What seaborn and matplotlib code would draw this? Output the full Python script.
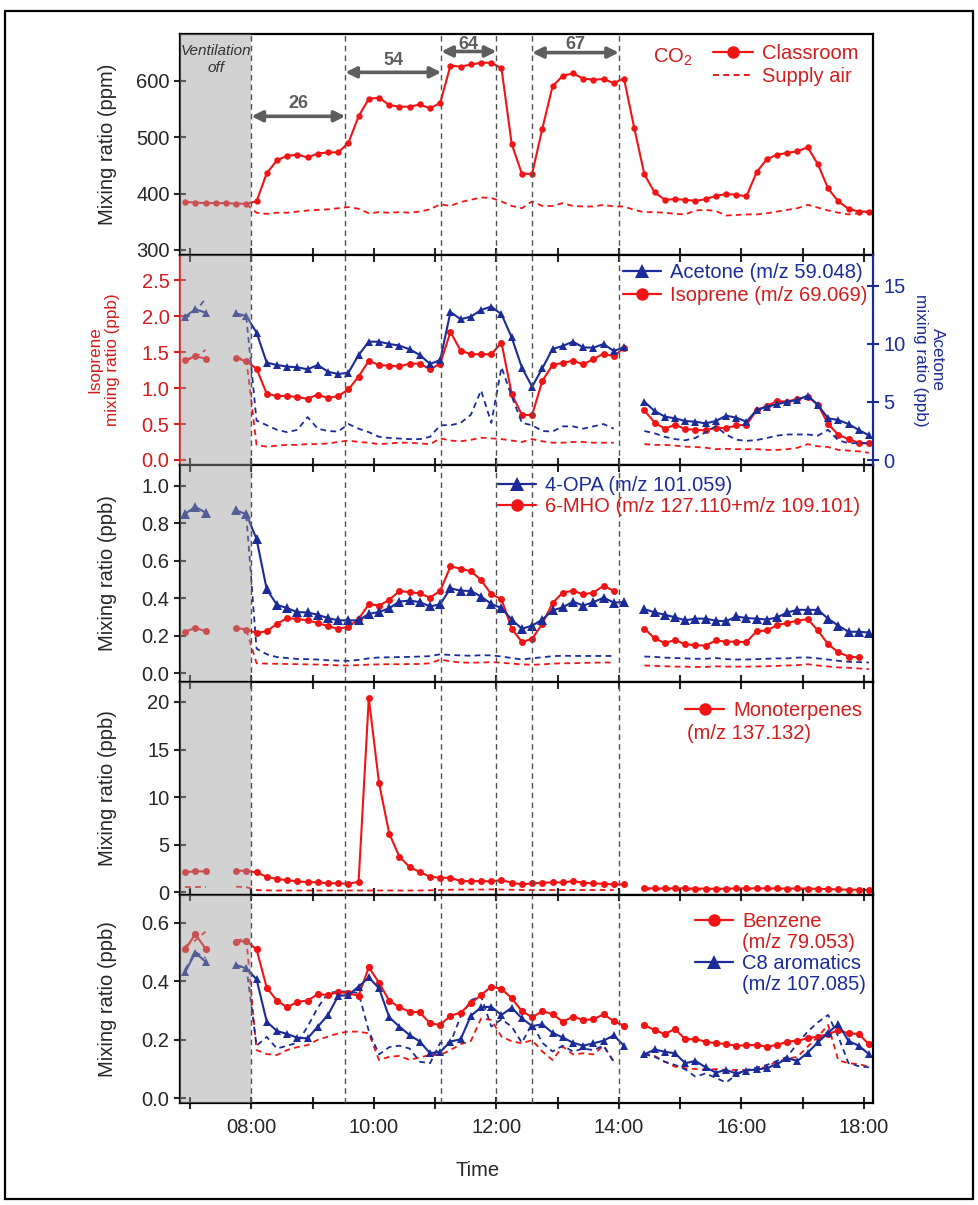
import numpy as np
import pandas as pd
import matplotlib
matplotlib.use('Agg')
import matplotlib.pyplot as plt
import seaborn as sns
from matplotlib.lines import Line2D
from matplotlib.patches import Rectangle

nan = np.nan


def grid(start, end):
    return list(pd.date_range(f'2000-01-01 {start}', f'2000-01-01 {end}',
                              freq='10min').strftime('%H:%M'))


# ---------------- time bases ----------------
co2_time = grid('06:55', '18:05')
co2_supply_time = grid('07:55', '18:05')
voc_time = grid('06:55', '07:15') + grid('07:45', '14:05') + grid('14:25', '18:05')
voc_seg = [0] * 3 + [1] * 39 + [2] * 23
p3_supply_time = grid('07:55', '14:05') + grid('14:25', '18:05')
p3_supply_seg = [1] * 38 + [2] * 23

# ---------------- panel 1: CO2 (ppm) ----------------
co2_classroom = [385, 384, 383, 383, 383, 382, 382,
                 386, 436, 459, 467, 469, 464, 471, 473, 473,
                 490, 537, 568, 570, 557, 554, 554, 558, 551,
                 561, 627, 625, 629, 632, 632, 622, 488, 435,
                 435, 515, 590, 609, 613, 604, 602, 603, 596,
                 604, 517, 434, 402, 389, 390, 389, 387, 390,
                 396, 399, 398, 395, 438, 461, 469, 472, 475,
                 482, 452, 409, 386, 373, 368, 368]
co2_supply = [381,
              366, 364, 366, 366, 368, 370, 371, 372, 374,
              376, 373, 365, 367, 366, 367, 366, 368, 372,
              381, 378, 385, 389, 393, 392, 386, 378, 374,
              386, 378, 378, 383, 378, 377, 377, 380, 377,
              377, 371, 367, 367, 366, 364, 363, 370, 371,
              369, 361, 362, 363, 363, 365, 368, 371, 374,
              380, 375, 370, 366, 363, 365, 368]

# ---------------- panel 2: isoprene (ppb, left) / acetone (ppb, right) -------
isoprene = [1.39, 1.44, 1.41,
            1.42, 1.37,
            1.27, 0.92, 0.89, 0.89, 0.875, 0.85, 0.91, 0.86, 0.89,
            0.98, 1.16, 1.38, 1.32, 1.31, 1.30, 1.34, 1.34, 1.26,
            1.34, 1.78, 1.52, 1.47, 1.47, 1.47, 1.63, 0.92, 0.625,
            0.625, 1.10, 1.32, 1.35, 1.38, 1.33, 1.40, 1.48, 1.44,
            1.56,
            0.69, 0.52, 0.435, 0.49, 0.43, 0.42, 0.41, 0.45, 0.44, 0.48, 0.49, 0.69,
            0.75, 0.82, 0.81, 0.85, 0.88, 0.77, 0.50, 0.35, 0.29, 0.24, 0.23]
isoprene_supply = [1.38, 1.43, 1.53,
                   1.42, 1.40,
                   0.21, 0.185, 0.20, 0.21, 0.21, 0.22, 0.22, 0.23, 0.25,
                   0.27, 0.25, 0.24, 0.22, 0.23, 0.24, 0.24, 0.23, 0.22,
                   0.30, 0.27, 0.26, 0.28, 0.31, 0.30, 0.29, 0.27, 0.25,
                   0.29, 0.26, 0.24, 0.24, 0.25, 0.25, 0.24, 0.24, 0.24,
                   nan,
                   0.22, 0.21, 0.21, 0.20, 0.185, 0.18, 0.17, 0.15, 0.155, 0.15, 0.15, 0.15,
                   0.14, 0.14, 0.15, 0.17, 0.22, 0.19, 0.18, 0.14, 0.13, 0.12, 0.10]
acetone = [12.36, 12.99, 12.70,
           12.64, 12.41,
           10.98, 8.39, 8.19, 8.05, 7.99, 7.82, 8.19, 7.61, 7.41,
           7.53, 9.05, 10.20, 10.20, 10.0, 9.86, 9.54, 9.05, 8.28,
           8.62, 12.76, 12.13, 12.36, 12.93, 13.22, 12.56, 10.57, 7.96,
           6.32, 7.90, 9.57, 9.83, 10.20, 9.71, 9.68, 10.0, 9.40,
           9.71,
           5.03, 4.22, 3.74, 3.59, 3.36, 3.30, 3.16, 3.36, 3.82, 3.65, 3.30, 4.31,
           4.60, 4.80, 5.03, 5.17, 5.55, 4.74, 3.59, 3.45, 3.10, 2.59, 2.13]
acetone_supply = [12.2, 12.8, 13.9,
                  12.5, 12.3,
                  3.4, 3.0, 2.6, 2.4, 2.6, 3.7, 2.7, 2.5, 2.45,
                  3.1, 2.7, 2.4, 2.0, 1.9, 1.85, 1.8, 1.8, 2.0,
                  3.0, 3.0, 3.2, 3.9, 6.0, 3.2, 8.0, 5.5, 3.2,
                  3.0, 2.5, 2.45, 2.9, 2.9, 2.7, 2.9, 3.1, 2.7,
                  nan,
                  2.5, 2.3, 2.0, 1.8, 1.7, 1.9, 2.4, 2.9, 2.2, 1.75, 1.65, 1.72,
                  1.9, 2.1, 2.2, 2.2, 2.2, 2.1, 2.6, 1.7, 1.45, 1.45, 1.45]

# ---------------- panel 3: 4-OPA / 6-MHO (ppb) ----------------
opa = [0.85, 0.886, 0.856,
       0.868, 0.847,
       0.715, 0.446, 0.364, 0.346, 0.325, 0.323, 0.311, 0.293, 0.281,
       0.281, 0.281, 0.316, 0.325, 0.346, 0.381, 0.387, 0.378, 0.355,
       0.367, 0.452, 0.439, 0.438, 0.408, 0.369, 0.346, 0.285, 0.236,
       0.253, 0.285, 0.334, 0.350, 0.381, 0.360, 0.378, 0.402, 0.376,
       0.378,
       0.341, 0.323, 0.311, 0.297, 0.281, 0.290, 0.290, 0.279, 0.276, 0.302, 0.293, 0.290,
       0.285, 0.297, 0.323, 0.337, 0.337, 0.337, 0.290, 0.253, 0.220, 0.220, 0.216]
mho = [0.220, 0.241, 0.223,
       0.241, 0.232,
       0.214, 0.223, 0.262, 0.293, 0.288, 0.281, 0.267, 0.250, 0.236,
       0.246, 0.288, 0.367, 0.360, 0.390, 0.438, 0.431, 0.425, 0.402,
       0.439, 0.569, 0.557, 0.543, 0.496, 0.420, 0.394, 0.237, 0.165,
       0.183, 0.262, 0.373, 0.429, 0.439, 0.420, 0.429, 0.466, 0.438,
       nan,
       0.237, 0.185, 0.160, 0.176, 0.153, 0.149, 0.146, 0.174, 0.167, 0.167, 0.165, 0.223,
       0.227, 0.255, 0.267, 0.279, 0.288, 0.227, 0.153, 0.111, 0.088, 0.083, nan]
opa_supply = [0.84,
              0.13, 0.10, 0.085, 0.080, 0.075, 0.074, 0.072, 0.068, 0.066,
              0.065, 0.070, 0.078, 0.083, 0.084, 0.085, 0.086, 0.088, 0.090,
              0.100, 0.096, 0.094, 0.092, 0.095, 0.094, 0.088, 0.080, 0.072,
              0.079, 0.084, 0.090, 0.092, 0.091, 0.091, 0.091, 0.091, 0.091,
              nan,
              0.088, 0.086, 0.082, 0.080, 0.078, 0.076, 0.076, 0.080, 0.074, 0.072, 0.072, 0.074,
              0.076, 0.078, 0.078, 0.082, 0.083, 0.078, 0.072, 0.065, 0.060, 0.058, 0.056]
mho_supply = [0.23,
              0.052, 0.050, 0.049, 0.048, 0.047, 0.046, 0.045, 0.043, 0.041,
              0.040, 0.042, 0.045, 0.046, 0.047, 0.047, 0.048, 0.048, 0.052,
              0.072, 0.062, 0.056, 0.055, 0.056, 0.058, 0.055, 0.050, 0.046,
              0.044, 0.046, 0.050, 0.052, 0.052, 0.054, 0.055, 0.056, 0.056,
              nan,
              0.040, 0.038, 0.036, 0.034, 0.034, 0.032, 0.032, 0.036, 0.034, 0.034, 0.034, 0.035,
              0.036, 0.038, 0.040, 0.042, 0.047, 0.040, 0.035, 0.030, 0.028, 0.024, 0.021]

# ---------------- panel 4: monoterpenes (ppb) ----------------
monoterpenes = [2.14, 2.21, 2.21,
                2.28, 2.28,
                2.10, 1.65, 1.40, 1.30, 1.16, 1.09, 1.05, 0.98, 0.95,
                0.91, 1.12, 20.4, 11.5, 6.18, 3.75, 2.67, 2.14, 1.65,
                1.54, 1.54, 1.19, 1.19, 1.19, 1.16, 1.30, 1.02, 0.84,
                0.95, 1.02, 1.05, 1.05, 1.19, 1.02, 0.95, 0.91, 0.84,
                0.84,
                0.45, 0.42, 0.42, 0.44, 0.42, 0.40, 0.40, 0.38, 0.40, 0.42, 0.42, 0.44,
                0.42, 0.42, 0.40, 0.42, 0.40, 0.38, 0.35, 0.32, 0.28, 0.28, 0.25]
monoterpenes_supply = [0.6, 0.6, 0.6,
                       0.6, 0.55,
                       0.25, 0.22, 0.20, 0.20, 0.20, 0.20, 0.20, 0.20, 0.20,
                       0.20, 0.20, 0.20, 0.20, 0.20, 0.20, 0.20, 0.20, 0.22,
                       0.25, 0.28, 0.30, 0.30, 0.30, 0.32, 0.30, 0.28, 0.26,
                       0.25, 0.25, 0.25, 0.25, 0.25, 0.25, 0.25, 0.25, 0.25,
                       nan,
                       0.32, 0.30, 0.30, 0.28, 0.28, 0.28, 0.28, 0.30, 0.30, 0.32, 0.32, 0.30,
                       0.30, 0.28, 0.28, 0.30, 0.30, 0.28, 0.26, 0.25, 0.22, 0.22, 0.20]

# ---------------- panel 5: benzene / C8 aromatics (ppb) ----------------
benzene = [0.509, 0.561, 0.512,
           0.535, 0.538,
           0.509, 0.378, 0.334, 0.311, 0.330, 0.334, 0.356, 0.353, 0.364,
           0.359, 0.351, 0.448, 0.395, 0.334, 0.311, 0.296, 0.294, 0.256,
           0.251, 0.282, 0.293, 0.325, 0.353, 0.382, 0.374, 0.342, 0.298,
           0.277, 0.298, 0.288, 0.262, 0.279, 0.268, 0.270, 0.287, 0.264,
           0.248,
           0.251, 0.233, 0.220, 0.237, 0.202, 0.202, 0.194, 0.188, 0.186, 0.179, 0.182, 0.182,
           0.177, 0.182, 0.194, 0.197, 0.205, 0.211, 0.219, 0.233, 0.222, 0.220, 0.185]
c8_aromatics = [0.431, 0.498, 0.467,
                0.456, 0.444,
                0.407, 0.262, 0.230, 0.220, 0.207, 0.205, 0.245, 0.285, 0.350,
                0.353, 0.382, 0.413, 0.376, 0.277, 0.245, 0.216, 0.194, 0.154,
                0.159, 0.194, 0.202, 0.282, 0.311, 0.313, 0.285, 0.310, 0.273,
                0.247, 0.253, 0.224, 0.208, 0.190, 0.180, 0.188, 0.197, 0.215,
                0.180,
                0.150, 0.167, 0.159, 0.154, 0.120, 0.128, 0.106, 0.088, 0.097, 0.085, 0.095, 0.099,
                0.103, 0.117, 0.137, 0.128, 0.156, 0.191, 0.224, 0.254, 0.196, 0.180, 0.151]
benzene_supply = [0.52, 0.54, 0.57,
                  0.54, 0.545,
                  0.165, 0.151, 0.148, 0.165, 0.175, 0.182, 0.20, 0.211, 0.222,
                  0.228, 0.228, 0.222, 0.131, 0.142, 0.145, 0.131, 0.14, 0.148,
                  0.148, 0.165, 0.185, 0.196, 0.273, 0.268, 0.211, 0.195, 0.188,
                  0.199, 0.16, 0.131, 0.177, 0.15, 0.154, 0.15, 0.18, 0.125,
                  nan,
                  0.154, 0.145, 0.125, 0.108, 0.103, 0.10, 0.097, 0.10, 0.097, 0.097, 0.097, 0.097,
                  0.11, 0.125, 0.135, 0.142, 0.177, 0.21, 0.251, 0.13, 0.12, 0.117, 0.108]
c8_supply = [0.44, 0.50, 0.48,
             0.45, 0.45,
             0.18, 0.21, 0.17, 0.18, 0.19, 0.245, 0.31, 0.36, 0.365,
             0.365, 0.36, 0.23, 0.15, 0.175, 0.18, 0.17, 0.125, 0.12,
             0.19, 0.19, 0.28, 0.335, 0.35, 0.245, 0.27, 0.245, 0.19,
             0.255, 0.19, 0.16, 0.18, 0.16, 0.17, 0.165, 0.18, 0.125,
             nan,
             0.151, 0.142, 0.125, 0.114, 0.099, 0.074, 0.085, 0.07, 0.054, 0.08, 0.097, 0.105,
             0.114, 0.128, 0.142, 0.188, 0.228, 0.26, 0.285, 0.211, 0.12, 0.11, 0.106]

# ---------------- annotations ----------------
period_bounds = ['08:00', '09:32', '11:06', '12:00', '12:35', '14:00']
vent_labels = ['26', '54', '64', '67']
vent_spans = [('08:00', '09:32'), ('09:32', '11:06'), ('11:06', '12:00'), ('12:35', '14:00')]
vent_arrow_ppm = [537, 615, 652, 650]
vent_text_ppm = [560, 636, 664, 664]
hour_ticks = list(range(7, 19))

# ---------------- style ----------------
sns.set_theme(style='ticks')
plt.rcParams['font.family'] = ['Liberation Sans', 'DejaVu Sans']
plt.rcParams['mathtext.default'] = 'regular'
FS = 14.5
RED = '#f01414'
RED_T = '#d41c1c'
BLUE = '#1b2b98'
GREYL = '#505050'


def h(s):
    return int(s[:2]) + int(s[3:]) / 60.0


def draw(ax, times, seg, vals, color, marker=None, ms=4.5, dashed=False, zorder=2):
    df = pd.DataFrame({'t': [h(s) for s in times], 'seg': seg, 'v': vals}).dropna()
    kws = dict(color=color, linewidth=1.5, zorder=zorder)
    if dashed:
        kws.update(linestyle=(0, (3.2, 2.4)), linewidth=1.3)
    if marker:
        kws.update(marker=marker, markersize=ms, markeredgewidth=0)
    sns.lineplot(data=df, x='t', y='v', units='seg', estimator=None, sort=False,
                 ax=ax, legend=False, **kws)


W, H = 979, 1205
fig = plt.figure(figsize=(W / 100, H / 100), dpi=100)
fig.patch.set_facecolor('white')
edges = [34, 255, 465, 682, 895, 1103]
L, R = 180, 873
axes = []
for i in range(5):
    ax = fig.add_axes([L / W, 1 - edges[i + 1] / H, (R - L) / W, (edges[i + 1] - edges[i]) / H])
    axes.append(ax)
ax1, ax2, ax3, ax4, ax5 = axes
ax2r = ax2.twinx()

# ---- data ----
seg_all = [0] * len(co2_time)
draw(ax1, co2_time, seg_all, co2_classroom, RED, marker='o', ms=4.6)
draw(ax1, co2_supply_time, [0] * len(co2_supply_time), co2_supply, RED, dashed=True)

draw(ax2, voc_time, voc_seg, isoprene_supply, RED, dashed=True)
draw(ax2, voc_time, voc_seg, isoprene, RED, marker='o', ms=5)
draw(ax2r, voc_time, voc_seg, acetone_supply, BLUE, dashed=True)
draw(ax2r, voc_time, voc_seg, acetone, BLUE, marker='^', ms=5.2)

draw(ax3, p3_supply_time, p3_supply_seg, opa_supply, BLUE, dashed=True)
draw(ax3, p3_supply_time, p3_supply_seg, mho_supply, RED, dashed=True)
draw(ax3, voc_time, voc_seg, mho, RED, marker='o', ms=5)
draw(ax3, voc_time, voc_seg, opa, BLUE, marker='^', ms=6.8)

draw(ax4, voc_time, voc_seg, monoterpenes_supply, RED, dashed=True)
draw(ax4, voc_time, voc_seg, monoterpenes, RED, marker='o', ms=5)

draw(ax5, voc_time, voc_seg, benzene_supply, RED, dashed=True)
draw(ax5, voc_time, voc_seg, c8_supply, BLUE, dashed=True)
draw(ax5, voc_time, voc_seg, benzene, RED, marker='o', ms=5.2)
draw(ax5, voc_time, voc_seg, c8_aromatics, BLUE, marker='^', ms=5.6)

# ---- common x axis, shading, period lines ----
xmin, xmax = h('06:50'), h('18:09')
for ax in [ax1, ax2r, ax3, ax4, ax5]:
    ax.axvspan(xmin, h('08:00'), color='#9c9c9c', alpha=0.45, lw=0, zorder=3)
    for b in period_bounds:
        ax.axvline(h(b), color=GREYL, lw=1.0, ls=(0, (4, 3)), zorder=4)

for i, ax in enumerate(axes):
    ax.set_xlim(xmin, xmax)
    ax.set_xticks(hour_ticks)
    if i == 4:
        ax.set_xticklabels([f'{t:02d}:00' if t % 2 == 0 else '' for t in hour_ticks], fontsize=FS)
        ax.tick_params(axis='x', direction='inout', length=9, width=1.5, pad=6)
    else:
        ax.set_xticklabels([])
        ax.tick_params(axis='x', direction='in', length=5, width=1.5)
    if i > 0:
        ax.tick_params(axis='x', top=True)
    ax.set_xlabel('')
    for sp in ax.spines.values():
        sp.set_linewidth(1.6)
        sp.set_color('black')
    ax.tick_params(axis='y', direction='inout', length=9, width=1.5, labelsize=FS, pad=3)

ax2r.set_xlabel('')
fig.text(478 / W, 1 - 1170 / H, 'Time', ha='center', va='center', fontsize=FS)

# ---- y axes ----
ax1.set_ylim(291, 683)
ax1.set_yticks([300, 400, 500, 600])
ax1.set_ylabel('Mixing ratio (ppm)', fontsize=FS)

ax2.set_ylim(-0.07, 2.85)
ax2.set_yticks([0, 0.5, 1.0, 1.5, 2.0, 2.5])
ax2.set_yticklabels(['0.0', '0.5', '1.0', '1.5', '2.0', '2.5'])
ax2.set_ylabel('Isoprene\nmixing ratio (ppb)', fontsize=12.3, color=RED_T)
ax2.tick_params(axis='y', colors=RED_T)
ax2.spines['left'].set_color(RED)
ax2.spines['right'].set_visible(False)
ax2r.set_ylim(-0.43, 17.67)
ax2r.set_yticks([0, 5, 10, 15])
ax2r.tick_params(axis='y', direction='inout', length=9, width=1.5, labelsize=FS, colors=BLUE, pad=3)
ax2r.spines['right'].set_color(BLUE)
ax2r.spines['right'].set_linewidth(1.6)
for k in ['left', 'top', 'bottom']:
    ax2r.spines[k].set_visible(False)
ax2r.set_ylabel('')
ax2r.text(1.081, 0.5, 'Acetone\nmixing ratio (ppb)', transform=ax2r.transAxes, rotation=-90,
          ha='center', va='center', fontsize=12.3, color=BLUE, linespacing=1.2)

ax3.set_ylim(-0.048, 1.11)
ax3.set_yticks([0, 0.2, 0.4, 0.6, 0.8, 1.0])
ax3.set_yticklabels(['0.0', '0.2', '0.4', '0.6', '0.8', '1.0'])
ax3.set_ylabel('Mixing ratio (ppb)', fontsize=FS)

ax4.set_ylim(-0.27, 22.1)
ax4.set_yticks([0, 5, 10, 15, 20])
ax4.set_ylabel('Mixing ratio (ppb)', fontsize=FS)

ax5.set_ylim(-0.016, 0.695)
ax5.set_yticks([0, 0.2, 0.4, 0.6])
ax5.set_yticklabels(['0.0', '0.2', '0.4', '0.6'])
ax5.set_ylabel('Mixing ratio (ppb)', fontsize=FS)

for ax in [ax1, ax3, ax4, ax5]:
    ax.yaxis.set_label_coords(-0.091, 0.5)
ax2.yaxis.set_label_coords(-0.087, 0.5)

# ---- panel 1 annotations ----
ax1.text(0.052, 0.885, 'Ventilation\noff', transform=ax1.transAxes, ha='center', va='center',
         fontsize=11, style='italic', color='#333333', linespacing=1.25, zorder=10)
for lab, (a, b), ya, yt in zip(vent_labels, vent_spans, vent_arrow_ppm, vent_text_ppm):
    ax1.annotate('', xy=(h(b), ya), xytext=(h(a), ya),
                 arrowprops=dict(arrowstyle='<|-|>', color='#5e5e5e', lw=2.6,
                                 mutation_scale=16, shrinkA=0, shrinkB=0), zorder=6)
    ax1.text((h(a) + h(b)) / 2, yt, lab, ha='center', va='center', fontsize=13,
             fontweight='bold', color='#5e5e5e', zorder=6)

ax1.text(0.711, 0.893, 'CO$_2$', transform=ax1.transAxes, ha='center', va='center',
         fontsize=FS, color=RED_T)

leg_kw = dict(frameon=False, borderpad=0, borderaxespad=0, handletextpad=0.45,
              labelspacing=0.2, fontsize=FS, loc='upper left')

h_co2 = [Line2D([], [], color=RED, lw=1.6, marker='o', ms=9, mew=0),
         Line2D([], [], color=RED, lw=1.4, ls=(0, (3, 2.3)))]
ax1.legend(h_co2, ['Classroom', 'Supply air'], bbox_to_anchor=(0.769, 0.955),
           handlelength=2.0, labelcolor=[RED_T, RED_T], **leg_kw)

h_p2 = [Line2D([], [], color=BLUE, lw=1.6, marker='^', ms=9.5, mew=0),
        Line2D([], [], color=RED, lw=1.6, marker='o', ms=9, mew=0)]
leg2 = ax2r.legend(h_p2, ['Acetone (m/z 59.048)', 'Isoprene (m/z 69.069)'],
                   bbox_to_anchor=(0.639, 0.96), handlelength=1.9,
                   labelcolor=[BLUE, RED_T], **leg_kw)
leg2.set_zorder(20)

h_p3 = [Line2D([], [], color=BLUE, lw=1.6, marker='^', ms=10, mew=0),
        Line2D([], [], color=RED, lw=1.6, marker='o', ms=9, mew=0)]
ax3.legend(h_p3, ['4-OPA (m/z 101.059)', '6-MHO (m/z 127.110+m/z 109.101)'],
           bbox_to_anchor=(0.459, 0.95), handlelength=1.9,
           labelcolor=[BLUE, RED_T], **dict(leg_kw, labelspacing=0.12))

h_p4 = [Line2D([], [], color=RED, lw=1.6, marker='o', ms=9, mew=0)]
ax4.legend(h_p4, ['Monoterpenes'], bbox_to_anchor=(0.729, 0.911), handlelength=1.95,
           labelcolor=[RED_T], **leg_kw)
ax4.text(0.732, 0.758, '(m/z 137.132)', transform=ax4.transAxes, ha='left', va='center',
         fontsize=FS, color=RED_T)

blank = Line2D([], [], color='none')
h_p5 = [Line2D([], [], color=RED, lw=1.6, marker='o', ms=9, mew=0), blank,
        Line2D([], [], color=BLUE, lw=1.6, marker='^', ms=10, mew=0), blank]
ax5.legend(h_p5, ['Benzene', '(m/z 79.053)', 'C8 aromatics', '(m/z 107.085)'],
           bbox_to_anchor=(0.743, 0.918), handlelength=1.9,
           labelcolor=[RED_T, RED_T, BLUE, BLUE], **dict(leg_kw, labelspacing=0.1))

# ---- figure frame ----
fig.patches.append(Rectangle((5 / W, 1 - 1199 / H), 968 / W, 1188 / H, transform=fig.transFigure,
                             fill=False, lw=1.6, ec='black'))

fig.savefig('out.png', dpi=100)
